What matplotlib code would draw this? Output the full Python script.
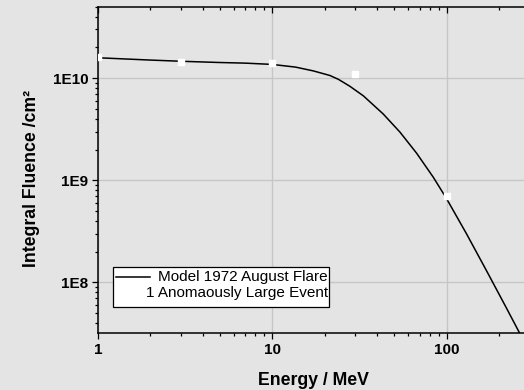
import matplotlib
matplotlib.use("Agg")
import matplotlib.pyplot as plt
from matplotlib.lines import Line2D
from matplotlib.patches import Rectangle
from matplotlib.ticker import FixedLocator, FixedFormatter, LogLocator, NullFormatter

# Model spectrum (1972 August flare), integral fluence vs energy
energy_model = [1, 2, 3, 5, 7, 10, 13.6, 17.2, 21.4, 24, 27.9, 33.3, 43.3, 54, 67.3, 83.9,
                100, 130, 170, 220, 300]
fluence_model = [1.58e10, 1.50e10, 1.46e10, 1.42e10, 1.40e10, 1.36e10, 1.28e10, 1.175e10,
                 1.06e10, 9.7e9, 8.3e9, 6.7e9, 4.45e9, 2.96e9, 1.84e9, 1.07e9,
                 6.6e8, 3.0e8, 1.29e8, 5.66e7, 2.07e7]

# Measured points
energy_obs = [1, 3, 10, 30, 100]
fluence_obs = [1.59e10, 1.45e10, 1.41e10, 1.09e10, 7.0e8]

x_ticks = [1, 10, 100]
x_tick_labels = ["1", "10", "100"]
y_ticks = [1e8, 1e9, 1e10]
y_tick_labels = ["1E8", "1E9", "1E10"]

legend_lines = ["Model 1972 August Flare", "1 Anomaously Large Event"]

bg = "#e4e4e4"
plt.rcParams["font.family"] = ["Liberation Sans", "DejaVu Sans"]

fig = plt.figure(figsize=(5.24, 3.90), dpi=100, facecolor=bg)
ax = fig.add_axes([0.187, 0.146, 0.824, 0.837], facecolor=bg)

ax.set_xscale("log")
ax.set_yscale("log")
ax.set_xlim(1, 300)
ax.set_ylim(3.2e7, 5e10)

ax.grid(True, which="major", color="#c6c6c6", linewidth=1.0, zorder=0)
ax.set_axisbelow(True)

ax.plot(energy_model, fluence_model, color="black", linewidth=1.1, zorder=3)
ax.plot(energy_obs, fluence_obs, linestyle="none", marker="s", markersize=4.5,
        markerfacecolor="white", markeredgecolor="white", zorder=4)

# axes frame: left, bottom, top; no right spine
ax.spines["right"].set_visible(False)
for side in ("left", "bottom", "top"):
    ax.spines[side].set_linewidth(1.1)

ax.xaxis.set_major_locator(FixedLocator(x_ticks))
ax.xaxis.set_major_formatter(FixedFormatter(x_tick_labels))
ax.xaxis.set_minor_locator(LogLocator(base=10, subs=range(2, 10)))
ax.xaxis.set_minor_formatter(NullFormatter())
ax.yaxis.set_major_locator(FixedLocator(y_ticks))
ax.yaxis.set_major_formatter(FixedFormatter(y_tick_labels))
ax.yaxis.set_minor_locator(LogLocator(base=10, subs=range(2, 10)))
ax.yaxis.set_minor_formatter(NullFormatter())

ax.tick_params(axis="both", which="major", direction="out", length=4, width=0.9,
               labelsize=11, pad=3)
ax.tick_params(axis="both", which="minor", direction="out", length=2.3, width=0.9)
ax.tick_params(axis="x", which="both", top=True)
ax.tick_params(axis="y", which="both", right=False)
for lab in ax.get_xticklabels() + ax.get_yticklabels():
    lab.set_fontweight("bold")

# top ticks point into the plot
for t in ax.xaxis.get_major_ticks() + ax.xaxis.get_minor_ticks():
    t.tick2line.set_marker(matplotlib.markers.TICKDOWN)

ax.set_xlabel("Energy / MeV", fontsize=12.7, fontweight="bold", labelpad=11)
ax.set_ylabel("Integral Fluence /cm²", fontsize=12.7, fontweight="bold")
ax.yaxis.set_label_coords(-0.135, 0.472)

# legend box
ax.add_patch(Rectangle((0.0354, 0.0806), 0.4996, 0.1204, transform=ax.transAxes,
                       facecolor="white", edgecolor="black", linewidth=0.9, zorder=5))
ax.add_line(Line2D([0.042, 0.1199], [0.1722, 0.1722], transform=ax.transAxes,
                   color="black", linewidth=1.1, zorder=6))
ax.text(0.5319, 0.1595, legend_lines[0], transform=ax.transAxes, ha="right",
        va="baseline", fontsize=11, zorder=6)
ax.text(0.5319, 0.1095, legend_lines[1], transform=ax.transAxes, ha="right",
        va="baseline", fontsize=11, zorder=6)

fig.savefig("out.png", dpi=100, facecolor=bg)
